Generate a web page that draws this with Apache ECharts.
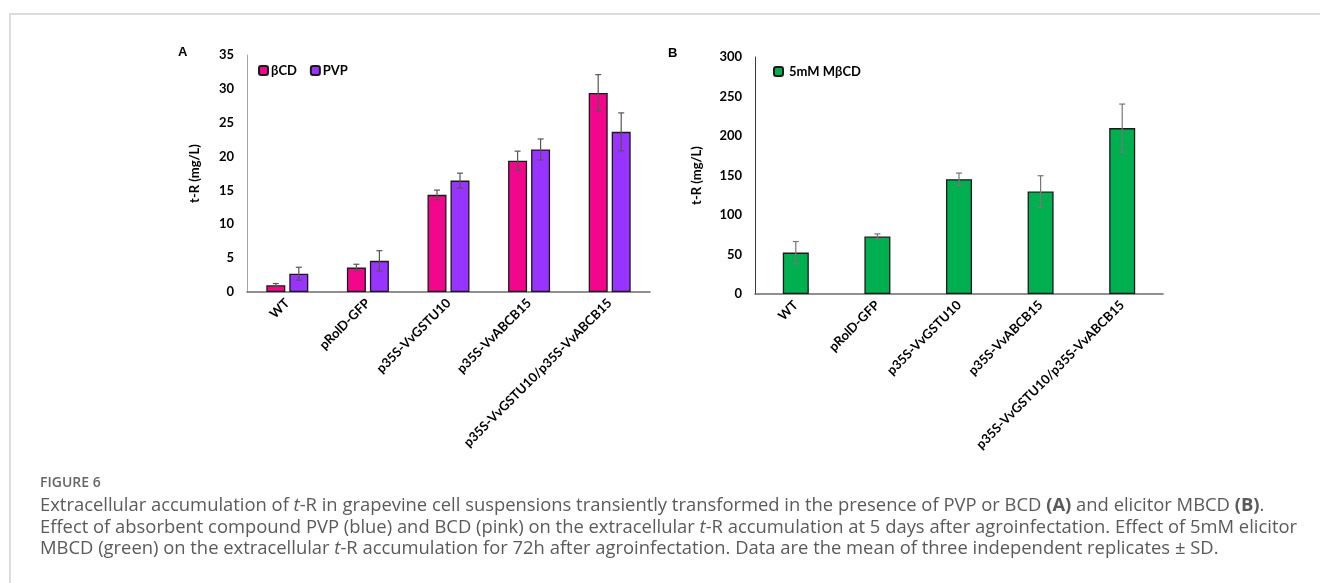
<!DOCTYPE html>
<html>
<head>
<meta charset="utf-8">
<script src="https://cdn.jsdelivr.net/npm/echarts@6/dist/echarts.min.js"></script>
<style>
html,body{margin:0;padding:0;background:#fff;}
#chart{width:1320px;height:583px;}
</style>
</head>
<body>
<div id="chart"></div>
<script>
// ---- data ----
const categories = ['WT', 'pRolD-GFP', 'p35S-VvGSTU10', 'p35S-VvABCB15', 'p35S-VvGSTU10/p35S-VvABCB15'];
const bcdValues = [1.0, 3.6, 14.35, 19.4, 29.4];
const bcdSD     = [0.25, 0.5, 0.7, 1.4, 2.7];
const pvpValues = [2.7, 4.6, 16.45, 21.05, 23.65];
const pvpSD     = [0.95, 1.5, 1.1, 1.55, 2.8];
const mbcdValues = [52.4, 72.7, 145.3, 129.7, 210];
const mbcdSD     = [14, 3.4, 7.8, 20, 30.4];
const yTicksA = {min: 0, max: 35, interval: 5};
const yTicksB = {min: 0, max: 300, interval: 50};

// ---- helpers ----
const tickFont = {fontFamily: 'Lato', fontWeight: 'bold', fontSize: 13, color: '#000'};
function errData(vals, sd) { return vals.map((v, i) => [i, v - sd[i], v + sd[i]]); }
function errSeries(name, xi, yi, vals, sd, offset, color) {
  return {
    type: 'custom', name: name, xAxisIndex: xi, yAxisIndex: yi, z: 10,
    data: errData(vals, sd),
    encode: {x: 0, y: [1, 2]},
    renderItem: function (params, api) {
      const c = api.value(0);
      const lo = api.coord([c, api.value(1)]);
      const hi = api.coord([c, api.value(2)]);
      const x = lo[0] + offset;
      const w = 3;
      const st = {stroke: color, lineWidth: 1.2};
      return {type: 'group', children: [
        {type: 'line', shape: {x1: x, y1: lo[1], x2: x, y2: hi[1]}, style: st},
        {type: 'line', shape: {x1: x - w, y1: lo[1], x2: x + w, y2: lo[1]}, style: st},
        {type: 'line', shape: {x1: x - w, y1: hi[1], x2: x + w, y2: hi[1]}, style: st}
      ]};
    }
  };
}
function yAxis(gi, t, lineColor) {
  return {
    type: 'value', gridIndex: gi, min: t.min, max: t.max, interval: t.interval,
    name: 't-R (mg/L)', nameLocation: 'middle', nameGap: gi === 0 ? 46 : 52,
    nameTextStyle: {fontFamily: 'Lato', fontWeight: 'bold', fontSize: 13, color: '#000'},
    axisLine: {show: true, lineStyle: {color: lineColor, width: 1}},
    axisTick: {show: false}, splitLine: {show: false},
    axisLabel: Object.assign({margin: 13}, tickFont)
  };
}
function xAxis(gi) {
  return {
    type: 'category', gridIndex: gi, data: categories,
    axisLine: {lineStyle: {color: '#6b6b6b', width: 1.6}},
    axisTick: {show: false},
    axisLabel: Object.assign({rotate: 45, margin: 9, interval: 0}, tickFont)
  };
}

const chart = echarts.init(document.getElementById('chart'), null, {renderer: 'canvas'});
const capColor = '#5a5a5a';
const rich = {
  i: {fontFamily: 'Open Sans', fontStyle: 'italic', fontSize: 18.4, fill: capColor},
  b: {fontFamily: 'Open Sans', fontWeight: 'bold', fontSize: 18.4, fill: capColor}
};
function capLine(text, y) {
  return {type: 'text', x: 40, y: y, style: {text: text, font: '18.4px "Open Sans"', fill: capColor, verticalAlign: 'middle', rich: rich}};
}

chart.setOption({
  animation: false,
  backgroundColor: '#fff',
  grid: [
    {left: 247, top: 55, width: 403, height: 237},
    {left: 755, top: 57, width: 408, height: 237}
  ],
  xAxis: [xAxis(0), xAxis(1)],
  yAxis: [yAxis(0, yTicksA, '#a6a6a6'), yAxis(1, yTicksB, '#3a3a3a')],
  legend: [
    {data: ['βCD', 'PVP'], left: 258, top: 64, padding: 0, itemWidth: 9, itemHeight: 9, itemGap: 13,
     textStyle: {fontFamily: 'Lato', fontWeight: 'bold', fontSize: 13, color: '#000', padding: [0, 0, 0, -2]}},
    {data: ['5mM MβCD'], left: 773, top: 65, padding: 0, itemWidth: 9, itemHeight: 9,
     textStyle: {fontFamily: 'Lato', fontWeight: 'bold', fontSize: 13, color: '#000', padding: [0, 0, 0, 1]}}
  ],
  series: [
    {type: 'bar', name: 'βCD', xAxisIndex: 0, yAxisIndex: 0, data: bcdValues, barWidth: 19, barGap: '21%',
     itemStyle: {color: '#F2078C', borderColor: '#1a1a1a', borderWidth: 1.3}},
    {type: 'bar', name: 'PVP', xAxisIndex: 0, yAxisIndex: 0, data: pvpValues, barWidth: 19, barGap: '21%',
     itemStyle: {color: '#9933FF', borderColor: '#1a1a1a', borderWidth: 1.3}},
    {type: 'bar', name: '5mM MβCD', xAxisIndex: 1, yAxisIndex: 1, data: mbcdValues, barWidth: 26,
     itemStyle: {color: '#00B050', borderColor: '#1a1a1a', borderWidth: 1.3}},
    errSeries('βCD SD', 0, 0, bcdValues, bcdSD, -11.5, '#555'),
    errSeries('PVP SD', 0, 0, pvpValues, pvpSD, 11.5, '#555'),
    errSeries('MβCD SD', 1, 1, mbcdValues, mbcdSD, 0, '#777')
  ],
  graphic: [
    {type: 'polyline', shape: {points: [[10, 583], [10, 14], [1320, 14]]}, style: {stroke: '#dcdcdc', lineWidth: 2, fill: null}},
    {type: 'text', x: 178, y: 52, style: {text: 'A', font: 'bold 13px "Liberation Sans"', fill: '#000', verticalAlign: 'middle'}},
    {type: 'text', x: 668, y: 53, style: {text: 'B', font: 'bold 13px "Liberation Sans"', fill: '#000', verticalAlign: 'middle'}},
    {type: 'text', x: 40, y: 483, style: {text: 'FIGURE 6', font: '600 14px "Open Sans"', fill: '#666', verticalAlign: 'middle'}},
    capLine('Extracellular accumulation of {i|t}-R in grapevine cell suspensions transiently transformed in the presence of PVP or BCD {b|(A)} and elicitor MBCD {b|(B)}.', 506),
    capLine('Effect of absorbent compound PVP (blue) and BCD (pink) on the extracellular {i|t}-R accumulation at 5 days after agroinfectation. Effect of 5mM elicitor', 527.5),
    capLine('MBCD (green) on the extracellular {i|t}-R accumulation for 72h after agroinfectation. Data are the mean of three independent replicates ± SD.', 549)
  ]
});
</script>
</body>
</html>
